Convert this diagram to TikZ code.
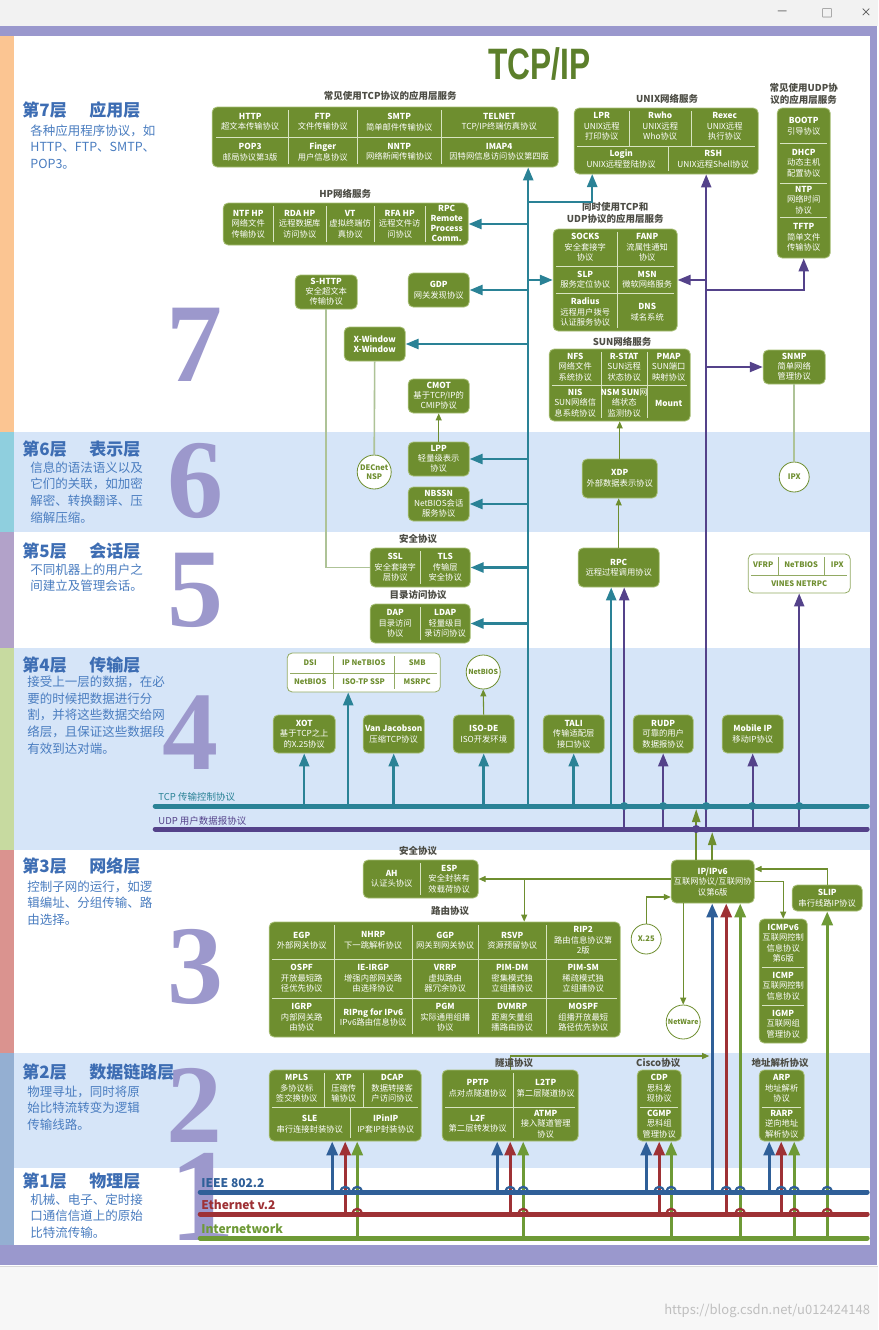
\documentclass[tikz,border=0pt]{standalone}
\usepackage{fontspec}
\usepackage{graphicx}
\setmainfont{Noto Sans CJK SC}
\newfontfamily\numfont{Liberation Serif}
\newfontfamily\headfont{Liberation Sans}
\usetikzlibrary{arrows.meta,positioning,fit,calc}
\definecolor{tcpipgreen}{HTML}{6E8E2F}
\definecolor{tcpiprim}{HTML}{A6BE74}
\definecolor{tcpipsep}{HTML}{D8E4C2}
\definecolor{tcpipteal}{HTML}{2A8296}
\definecolor{tcpippurple}{HTML}{54428A}
\definecolor{tcpipblue}{HTML}{2F5F98}
\definecolor{tcpipred}{HTML}{9E3135}
\definecolor{tcpiplime}{HTML}{6E9A36}
\definecolor{tcpipband}{HTML}{D6E5F8}
\definecolor{tcpipframe}{HTML}{9A98CD}
\definecolor{tcpipnum}{HTML}{9C98CC}
\definecolor{tcpiphead}{HTML}{3D6DB3}
\definecolor{tcpipdesc}{HTML}{4A7DC0}
\definecolor{tcpiplabel}{HTML}{4D4D45}
\definecolor{tcpippale}{HTML}{AEC397}
\definecolor{tcpiptitle}{HTML}{5C7F2B}
\definecolor{tcpipseven}{HTML}{FBC592}
\definecolor{tcpipsix}{HTML}{8FCFDE}
\definecolor{tcpipfive}{HTML}{B2A2C9}
\definecolor{tcpipfour}{HTML}{C7DAA0}
\definecolor{tcpipthree}{HTML}{DA938F}
\definecolor{tcpiptwo}{HTML}{94AFD2}

\begin{document}
\begin{tikzpicture}[
  x=1pt, y=-1pt,
  grbox/.style={draw=tcpiprim, fill=tcpipgreen, rounded corners=5pt, line width=0.8pt, inner sep=0pt},
  wbox/.style={draw=tcpipgreen!75, fill=white, rounded corners=5pt, line width=0.8pt, inner sep=0pt},
  cell/.style={text=white, align=center, inner sep=0pt, font=\fontsize{8.3}{10.5}\selectfont},
  wcell/.style={text=tcpipgreen, inner sep=0pt, font=\fontsize{7.6}{9}\selectfont\bfseries},
  sep/.style={draw=tcpipsep, line width=0.7pt},
  wsep/.style={draw=tcpipgreen!75, line width=0.7pt},
  grouplbl/.style={text=tcpiplabel, align=center, font=\fontsize{9.5}{12}\selectfont\bfseries},
  circ/.style={circle, draw=tcpipgreen, fill=white, line width=0.8pt, inner sep=0pt, align=center,
               text=tcpipgreen, font=\fontsize{7.6}{9}\selectfont\bfseries},
  tcparr/.style={draw=tcpipteal, line width=2.5pt, -{Triangle[length=13pt,width=10pt]}},
  udparr/.style={draw=tcpippurple, line width=2.2pt, -{Triangle[length=13pt,width=10pt]}},
  thinarr/.style={draw=tcpipgreen, line width=1.1pt, -{Triangle[length=7pt,width=6pt]}},
  iparr/.style={draw=tcpipgreen, line width=2.2pt, -{Triangle[length=13pt,width=8pt]}},
  palelink/.style={draw=tcpippale, line width=1.6pt},
  phyarr/.style={line width=3.2pt, -{Triangle[length=14pt,width=11pt]}},
  bus/.style={line width=5pt, line cap=round},
  buslbl/.style={anchor=west, inner sep=0pt, font=\fontsize{9.5}{11}\selectfont},
  phylbl/.style={anchor=west, inner sep=0pt, font=\fontsize{12}{12}\selectfont\bfseries},
  layerhead/.style={anchor=west, text=tcpiphead, inner sep=0pt, font=\fontsize{17}{20}\selectfont\bfseries},
  layerdesc/.style={anchor=north west, text=tcpipdesc, align=left, inner sep=0pt,
                    font=\fontsize{12.5}{16.6}\selectfont},
  bignum/.style={text=tcpipnum, inner sep=0pt, font=\numfont\bfseries\fontsize{112}{112}\selectfont},
  wintxt/.style={text=black!75, inner sep=0pt, font=\fontsize{11}{11}\selectfont}
]
\fill[white] (0,0) rectangle (878,1330);
\fill[black!5] (0,0) rectangle (878,26);
\fill[black!3] (0,1266) rectangle (878,1330);
\draw[black!15] (0,1266) -- (878,1266);
\fill[tcpipband] (14,432) rectangle (870,532);
\fill[tcpipband] (14,648) rectangle (870,850);
\fill[tcpipband] (14,1053) rectangle (870,1168);
\fill[tcpipseven] (0,36) rectangle (14,432);
\fill[tcpipsix] (0,432) rectangle (14,532);
\fill[tcpipfive] (0,532) rectangle (14,648);
\fill[tcpipfour] (0,648) rectangle (14,850);
\fill[tcpipthree] (0,850) rectangle (14,1053);
\fill[tcpiptwo] (0,1053) rectangle (14,1245);
\fill[tcpipframe] (0,26) rectangle (877,36);
\fill[tcpipframe] (870,26) rectangle (877,1265);
\fill[tcpipframe] (0,1245) rectangle (877,1265);
\node[wintxt] (winmin) at (782,13) {—};
\node[wintxt] (winmax) at (827,13) {□};
\node[wintxt] (winclose) at (866,13) {×};
\node[anchor=east, text=black!25, inner sep=0pt, font=\fontsize{13}{13}\selectfont] (blogurl) at (870,1311) {https://blog.csdn.net/u012424148};

\foreach \ly/\x/\y in {7/194/345, 6/195/481, 5/195/590, 4/190/733, 3/195/967, 2/194/1105}
  \node[bignum] (num\ly) at (\x,\y) {\ly};
\node[bignum, font=\numfont\bfseries\fontsize{132}{132}\selectfont] (num1) at (202,1197) {1};

\foreach \ly/\y/\lname in {7/110/应用层, 6/449/表示层, 5/551/会话层, 4/665/传输层, 3/866/网络层, 2/1072/数据链路层, 1/1181/物理层}{
  \node[layerhead] (head\ly) at (22,\y) {第\ly 层};
  \node[layerhead] (name\ly) at (89,\y) {\lname};
}
\node[layerdesc] (desc7) at (30,124.4) {各种应用程序协议，如\\HTTP、FTP、SMTP、\\POP3。};
\node[layerdesc] (desc6) at (30,461.4) {信息的语法语义以及\\它们的关联，如加密\\解密、转换翻译、压\\缩解压缩。};
\node[layerdesc] (desc5) at (30,563.4) {不同机器上的用户之\\间建立及管理会话。};
\node[layerdesc] (desc4) at (27,676) {接受上一层的数据，在必\\要的时候把数据进行分\\割，并将这些数据交给网\\络层，且保证这些数据段\\有效到达对端。};
\node[layerdesc] (desc3) at (27,880.4) {控制子网的运行，如逻\\辑编址、分组传输、路\\由选择。};
\node[layerdesc] (desc2) at (27,1085.4) {物理寻址，同时将原\\始比特流转变为逻辑\\传输线路。};
\node[layerdesc] (desc1) at (30,1193.4) {机械、电子、定时接\\口通信信道上的原始\\比特流传输。};

\node[text=tcpiptitle, inner sep=0pt] (title) at (539,64)
  {\scalebox{0.72}[1]{\headfont\bfseries\fontsize{44}{44}\selectfont TCP/IP}};

\node[grouplbl] (tcpappslbl) at (390,96) {常见使用TCP协议的应用层服务};
\node[grbox, fit={(212,107) (558,167)}] (tcpapps) {};
\foreach \x in {288,357,441} \draw[sep] (\x,110) -- (\x,164);
\draw[sep] (216,137) -- (554,137);
\node[cell] (http) at (250,122) {\textbf{HTTP}\\超文本传输协议};
\node[cell] (ftp) at (322.5,122) {\textbf{FTP}\\文件传输协议};
\node[cell] (smtp) at (399,122) {\textbf{SMTP}\\简单邮件传输协议};
\node[cell] (telnet) at (499,122) {\textbf{TELNET}\\TCP/IP终端仿真协议};
\node[cell] (pop3) at (250,152) {\textbf{POP3}\\邮局协议第3版};
\node[cell] (finger) at (322.5,152) {\textbf{Finger}\\用户信息协议};
\node[cell] (nntp) at (399,152) {\textbf{NNTP}\\网络新闻传输协议};
\node[cell] (imap) at (499,152) {\textbf{IMAP4}\\因特网信息访问协议第四版};

\node[grouplbl] (hplbl) at (345,194) {HP网络服务};
\node[grbox, fit={(223,203) (468,245)}] (hp) {};
\foreach \x in {273,326,374,425} \draw[sep] (\x,206) -- (\x,242);
\node[cell] (ntfhp) at (248,224) {\textbf{NTF HP}\\网络文件\\传输协议};
\node[cell] (rdahp) at (299.5,224) {\textbf{RDA HP}\\远程数据库\\访问协议};
\node[cell] (vt) at (350,224) {\textbf{VT}\\虚拟终端仿\\真协议};
\node[cell] (rfahp) at (399.5,224) {\textbf{RFA HP}\\远程文件访\\问协议};
\node[cell, font=\fontsize{8.3}{10}\selectfont\bfseries] (rpchp) at (446.5,223.5) {RPC\\Remote\\Process\\Comm.};

\node[grouplbl] (unixlbl) at (667,99) {UNIX网络服务};
\node[grbox, fit={(574,108) (758,174)}] (unix) {};
\draw[sep] (577,146) -- (755,146);
\foreach \x in {629,691} \draw[sep] (\x,111) -- (\x,146);
\draw[sep] (668,146) -- (668,171);
\node[cell] (lpr) at (601.5,126.5) {\textbf{LPR}\\UNIX远程\\打印协议};
\node[cell] (rwho) at (660,126.5) {\textbf{Rwho}\\UNIX远程\\Who协议};
\node[cell] (rexec) at (724.5,126.5) {\textbf{Rexec}\\UNIX远程\\执行协议};
\node[cell] (login) at (621,159) {\textbf{Login}\\UNIX远程登陆协议};
\node[cell] (rsh) at (713,159) {\textbf{RSH}\\UNIX远程Shell协议};

\node[grouplbl] (udpappslbl) at (803.5,93.5) {常见使用UDP协\\议的应用层服务};
\node[grbox, fit={(777,108) (830,258)}] (udpapps) {};
\foreach \y in {143,183,217} \draw[sep] (780,\y) -- (827,\y);
\node[cell] (bootp) at (803.5,126) {\textbf{BOOTP}\\引导协议};
\node[cell] (dhcp) at (803.5,163) {\textbf{DHCP}\\动态主机\\配置协议};
\node[cell] (ntp) at (803.5,200) {\textbf{NTP}\\网络时间\\协议};
\node[cell] (tftp) at (803.5,237.5) {\textbf{TFTP}\\简单文件\\传输协议};

\node[grouplbl] (bothlbl) at (615,213) {同时使用TCP和\\UDP协议的应用层服务};
\node[grbox, fit={(553,229) (677,331)}] (both) {};
\draw[sep] (617,232) -- (617,328);
\foreach \y in {266,293} \draw[sep] (556,\y) -- (674,\y);
\node[cell] (socks) at (585,247.5) {\textbf{SOCKS}\\安全套接字\\协议};
\node[cell] (fanp) at (647,247.5) {\textbf{FANP}\\流属性通知\\协议};
\node[cell] (slp) at (585,279.5) {\textbf{SLP}\\服务定位协议};
\node[cell] (msn) at (647,279.5) {\textbf{MSN}\\微软网络服务};
\node[cell] (radius) at (585,312) {\textbf{Radius}\\远程用户拨号\\认证服务协议};
\node[cell] (dns) at (647,312) {\textbf{DNS}\\域名系统};

\node[grouplbl] (sunlbl) at (622,342) {SUN网络服务};
\node[grbox, fit={(549,349) (690,421)}] (sun) {};
\draw[sep] (552,385) -- (687,385);
\foreach \x in {601,647} \draw[sep] (\x,352) -- (\x,418);
\node[cell] (nfs) at (575,367) {\textbf{NFS}\\网络文件\\系统协议};
\node[cell] (rstat) at (624,367) {\textbf{R-STAT}\\SUN远程\\状态协议};
\node[cell] (pmap) at (668.5,367) {\textbf{PMAP}\\SUN端口\\映射协议};
\node[cell] (nis) at (575,403) {\textbf{NIS}\\SUN网络信\\息系统协议};
\node[cell] (nsm) at (624,403) {\textbf{NSM SUN}网\\络状态\\监测协议};
\node[cell] (mount) at (668.5,403) {\textbf{Mount}};

\node[grbox, fit={(763,350) (825,384)}] (snmp) {};
\node[cell, font=\fontsize{8.3}{10}\selectfont] (snmptxt) at (snmp) {\textbf{SNMP}\\简单网络\\管理协议};
\node[circ, minimum size=30pt] (ipx) at (794,477) {IPX};

\node[grbox, fit={(582,459) (657,498)}] (xdp) {};
\node[cell] (xdptxt) at (xdp) {\textbf{XDP}\\外部数据表示协议};

\node[grbox, fit={(295,275) (357,309)}] (shttp) {};
\node[cell, font=\fontsize{8.3}{10}\selectfont] (shttptxt) at (shttp) {\textbf{S-HTTP}\\安全超文本\\传输协议};
\node[grbox, fit={(408,273) (469,307)}] (gdp) {};
\node[cell] (gdptxt) at (gdp) {\textbf{GDP}\\网关发现协议};
\node[grbox, fit={(344,327) (405,361)}] (xwin) {};
\node[cell, font=\fontsize{8.3}{10.5}\selectfont\bfseries] (xwintxt) at (xwin) {X-Window\\X-Window};
\node[grbox, fit={(408,379) (469,413)}] (cmot) {};
\node[cell, font=\fontsize{8.3}{10}\selectfont] (cmottxt) at (cmot) {\textbf{CMOT}\\基于TCP/IP的\\CMIP协议};
\node[grbox, fit={(408,442) (469,476)}] (lpp) {};
\node[cell, font=\fontsize{8.3}{10}\selectfont] (lpptxt) at (lpp) {\textbf{LPP}\\轻量级表示\\协议};
\node[grbox, fit={(408,487) (469,521)}] (nbssn) {};
\node[cell, font=\fontsize{8.3}{10}\selectfont] (nbssntxt) at (nbssn) {\textbf{NBSSN}\\NetBIOS会话\\服务协议};
\node[circ, minimum size=34pt] (decnet) at (374,472) {DECnet\\NSP};

\node[grouplbl] (seclbl) at (418,539) {安全协议};
\node[grbox, fit={(370,548) (470,587)}] (secbox) {};
\draw[sep] (420,551) -- (420,584);
\node[cell] (ssl) at (395,567.5) {\textbf{SSL}\\安全套接字\\层协议};
\node[cell] (tls) at (445,567.5) {\textbf{TLS}\\传输层\\安全协议};
\node[grouplbl] (dirlbl) at (418,595) {目录访问协议};
\node[grbox, fit={(370,604) (470,643)}] (dirbox) {};
\draw[sep] (420,607) -- (420,640);
\node[cell] (dap) at (395,623.5) {\textbf{DAP}\\目录访问\\协议};
\node[cell] (ldap) at (445,623.5) {\textbf{LDAP}\\轻量级目\\录访问协议};
\node[grbox, fit={(578,548) (659,587)}] (rpc) {};
\node[cell] (rpctxt) at (rpc) {\textbf{RPC}\\远程过程调用协议};
\node[wbox, fit={(748,554) (850,593)}] (vines) {};
\draw[wsep] (751,575) -- (847,575);
\foreach \x in {778,824} \draw[wsep] (\x,557) -- (\x,575);
\node[wcell] (vfrp) at (763,565) {VFRP};
\node[wcell] (vnetbios) at (801,565) {NeTBIOS};
\node[wcell] (vipx) at (837,565) {IPX};
\node[wcell] (vnetrpc) at (799,584) {VINES NETRPC};

\node[wbox, fit={(287,653) (440,692)}] (smbbox) {};
\draw[wsep] (290,673) -- (437,673);
\foreach \x in {333,394} \draw[wsep] (\x,656) -- (\x,689);
\node[wcell] (dsi) at (310,663) {DSI};
\node[wcell] (ipnetbios) at (363.5,663) {IP NeTBIOS};
\node[wcell] (smb) at (417,663) {SMB};
\node[wcell] (snetbios) at (310,682) {NetBIOS};
\node[wcell] (isotp) at (363.5,682) {ISO-TP SSP};
\node[wcell] (msrpc) at (417,682) {MSRPC};
\node[circ, minimum size=34pt, font=\fontsize{7}{8}\selectfont\bfseries] (netbios) at (483,672) {NetBIOS};
\node[grbox, fit={(273,715) (335,753)}] (xot) {};
\node[cell] (xottxt) at (xot) {\textbf{XOT}\\基于TCP之上\\的X.25协议};
\node[grbox, fit={(363,715) (424,753)}] (vj) {};
\node[cell] (vjtxt) at (vj) {\textbf{Van Jacobson}\\压缩TCP协议};
\node[grbox, fit={(453,715) (514,753)}] (isode) {};
\node[cell] (isodetxt) at (isode) {\textbf{ISO-DE}\\ISO开发环境};
\node[grbox, fit={(543,715) (604,753)}] (tali) {};
\node[cell] (talitxt) at (tali) {\textbf{TALI}\\传输适配层\\接口协议};
\node[grbox, fit={(633,715) (693,753)}] (rudp) {};
\node[cell] (rudptxt) at (rudp) {\textbf{RUDP}\\可靠的用户\\数据报协议};
\node[grbox, fit={(722,715) (783,753)}] (mip) {};
\node[cell] (miptxt) at (mip) {\textbf{Mobile IP}\\移动IP协议};

\node[grbox, fit={(671,860) (754,903)}] (ip) {};
\node[cell] (iptxt) at (ip) {\textbf{IP/IPv6}\\互联网协议/互联网协\\议第6版};
\node[grbox, fit={(792,885) (862,911)}] (slip) {};
\node[cell] (sliptxt) at (slip) {\textbf{SLIP}\\串行线路IP协议};
\node[grbox, fit={(759,919) (807,1043)}] (icmpbox) {};
\foreach \y in {967,1005} \draw[sep] (762,\y) -- (804,\y);
\node[cell] (icmpv6) at (783,943) {\textbf{ICMPv6}\\互联网控制\\信息协议\\第6版};
\node[cell] (icmp) at (783,986) {\textbf{ICMP}\\互联网控制\\信息协议};
\node[cell] (igmp) at (783,1024) {\textbf{IGMP}\\互联网组\\管理协议};
\node[circ, minimum size=30pt] (x25) at (646,939) {X.25};
\node[circ, minimum size=34pt, font=\fontsize{7}{8}\selectfont\bfseries] (netware) at (683,1022) {NetWare};

\node[grouplbl] (sec3lbl) at (418,851) {安全协议};
\node[grbox, fit={(363,860) (478,898)}] (secl3) {};
\draw[sep] (420,863) -- (420,895);
\node[cell] (ah) at (391.5,879) {\textbf{AH}\\认证头协议};
\node[cell] (esp) at (449,879) {\textbf{ESP}\\安全封装有\\效载荷协议};
\node[grouplbl] (routelbl) at (450,911) {路由协议};
\node[grbox, fit={(269,922) (620,1037)}] (routing) {};
\foreach \x in {334,412,478,546} \draw[sep] (\x,925) -- (\x,1034);
\foreach \y in {959,998} \draw[sep] (272,\y) -- (617,\y);
\node[cell] (egp) at (301.5,940.5) {\textbf{EGP}\\外部网关协议};
\node[cell] (nhrp) at (373,940.5) {\textbf{NHRP}\\下一跳解析协议};
\node[cell] (ggp) at (445,940.5) {\textbf{GGP}\\网关到网关协议};
\node[cell] (rsvp) at (512,940.5) {\textbf{RSVP}\\资源预留协议};
\node[cell] (rip2) at (583,940.5) {\textbf{RIP2}\\路由信息协议第\\2版};
\node[cell] (ospf) at (301.5,978.5) {\textbf{OSPF}\\开放最短路\\径优先协议};
\node[cell] (ieirgp) at (373,978.5) {\textbf{IE-IRGP}\\增强内部网关路\\由选择协议};
\node[cell] (vrrp) at (445,978.5) {\textbf{VRRP}\\虚拟路由\\器冗余协议};
\node[cell] (pimdm) at (512,978.5) {\textbf{PIM-DM}\\密集模式独\\立组播协议};
\node[cell] (pimsm) at (583,978.5) {\textbf{PIM-SM}\\稀疏模式独\\立组播协议};
\node[cell] (igrp) at (301.5,1017.5) {\textbf{IGRP}\\内部网关路\\由协议};
\node[cell] (ripng) at (373,1017.5) {\textbf{RIPng for IPv6}\\IPv6路由信息协议};
\node[cell] (pgm) at (445,1017.5) {\textbf{PGM}\\实际通用组播\\协议};
\node[cell] (dvmrp) at (512,1017.5) {\textbf{DVMRP}\\距离矢量组\\播路由协议};
\node[cell] (mospf) at (583,1017.5) {\textbf{MOSPF}\\组播开放最短\\路径优先协议};

\node[grbox, fit={(269,1070) (421,1141)}] (l2a) {};
\draw[sep] (272,1107) -- (418,1107);
\foreach \x in {324,363} \draw[sep] (\x,1073) -- (\x,1107);
\draw[sep] (350,1107) -- (350,1138);
\node[cell] (mpls) at (296.5,1088.5) {\textbf{MPLS}\\多协议标\\签交换协议};
\node[cell] (xtp) at (343.5,1088.5) {\textbf{XTP}\\压缩传\\输协议};
\node[cell] (dcap) at (392,1088.5) {\textbf{DCAP}\\数据转接客\\户访问协议};
\node[cell] (sle) at (309.5,1124) {\textbf{SLE}\\串行连接封装协议};
\node[cell] (ipinip) at (385.5,1124) {\textbf{IPinIP}\\IP套IP封装协议};
\node[grbox, fit={(442,1070) (578,1141)}] (tunnel) {};
\draw[sep] (445,1107) -- (575,1107);
\draw[sep] (513,1073) -- (513,1138);
\node[cell] (pptp) at (477.5,1088.5) {\textbf{PPTP}\\点对点隧道协议};
\node[cell] (l2tp) at (545.5,1088.5) {\textbf{L2TP}\\第二层隧道协议};
\node[cell] (l2f) at (477.5,1124) {\textbf{L2F}\\第二层转发协议};
\node[cell] (atmp) at (545.5,1124) {\textbf{ATMP}\\接入隧道管理\\协议};
\node[grbox, fit={(637,1070) (681,1141)}] (cisco) {};
\draw[sep] (640,1107) -- (678,1107);
\node[cell] (cdp) at (659,1088.5) {\textbf{CDP}\\思科发\\现协议};
\node[cell] (cgmp) at (659,1124) {\textbf{CGMP}\\思科组\\管理协议};
\node[grbox, fit={(759,1070) (804,1141)}] (arpbox) {};
\draw[sep] (762,1107) -- (801,1107);
\node[cell] (arp) at (781.5,1088.5) {\textbf{ARP}\\地址解析\\协议};
\node[cell] (rarp) at (781.5,1124) {\textbf{RARP}\\逆向地址\\解析协议};

\coordinate (tcpbus) at (155,806);
\coordinate (tcpend) at (867,806);
\coordinate (udpbus) at (155,829);
\coordinate (udpend) at (867,829);
\coordinate (ieeebus) at (200,1192);
\coordinate (ieeeend) at (867,1192);
\coordinate (etherbus) at (200,1214);
\coordinate (etherend) at (867,1214);
\coordinate (inetbus) at (200,1238);
\coordinate (inetend) at (867,1238);
\coordinate (tcptrunk) at (528,806);
\coordinate (udptrunk) at (706,829);
\coordinate (iptcp) at (696,809);
\coordinate (ipudp) at (712,832);
\coordinate (secfork) at (524,879);

\draw[tcparr] (tcptrunk) -- (tcptrunk |- tcpapps.south);
\draw[tcparr] (tcptrunk |- hp.east) -- (hp.east);
\draw[tcparr] (tcptrunk |- 0,202) -| (592,174);
\draw[tcparr] (tcptrunk |- both.west) -- (both.west);
\draw[tcparr] (tcptrunk |- gdp.east) -- (gdp.east);
\draw[tcparr] (tcptrunk |- xwin.east) -- (xwin.east);
\draw[tcparr] (tcptrunk |- lpp.east) -- (lpp.east);
\draw[tcparr] (tcptrunk |- nbssn.east) -- (nbssn.east);
\draw[tcparr] (tcptrunk |- secbox.east) -- (secbox.east);
\draw[tcparr] (tcptrunk |- dirbox.east) -- (dirbox.east);
\draw[tcparr] (tcpbus -| 611,0) -- (rpc.south -| 611,0);
\draw[tcparr] (tcpbus -| 348,0) -- (smbbox.south -| 348,0);
\foreach \blk in {xot,vj,isode,tali}
  \draw[tcparr] (tcpbus -| \blk.south) -- (\blk.south);

\draw[udparr] (udptrunk) -- (udptrunk |- unix.south);
\draw[udparr] (udptrunk |- both.east) -- (both.east);
\draw[udparr] (udptrunk |- 0,290) -| (udpapps.south);
\draw[udparr] (udptrunk |- snmp.west) -- (snmp.west);
\draw[udparr] (udpbus -| 624,0) -- (rpc.south -| 624,0);
\foreach \blk in {rudp,mip,vines}
  \draw[udparr] (udpbus -| \blk.south) -- (\blk.south);

\draw[thinarr] (xdp.north) -- (xdp.north |- sun.south);
\draw[thinarr] (rpc.north) -- (rpc.north |- xdp.south);
\draw[thinarr] (lpp.north) -- (cmot.south);
\draw[thinarr] (isode.north) -- (netbios.south);
\draw[palelink] (shttp.south) |- (secbox.west);
\draw[palelink] (xwin.south) -- (decnet.north);
\draw[palelink] (snmp.south) -- (ipx.north);

\draw[iparr] (ip.north -| iptcp) -- (iptcp);
\draw[iparr] (ip.north -| ipudp) -- (ipudp);
\draw[thinarr] (x25.north) |- (ip.west |- 0,897);
\draw[thinarr] (netware.north |- ip.south) -- (netware.north);
\draw[thinarr] (ip.east) -| (icmpbox.north);
\draw[thinarr] (slip.north) |- (ip.east |- 0,869);
\draw[thinarr] (ip.west |- secl3.east) -- (secl3.east);
\draw[thinarr] (secfork) -- (secfork |- routing.north);
\draw[thinarr] (tunnel.north) |- (709,1056);

\draw[phyarr, tcpipblue] (ieeebus -| 712,0) -- (ip.south -| 712,0);
\draw[phyarr, tcpipred] (etherbus -| 726,0) -- (ip.south -| 726,0);
\draw[phyarr, tcpiplime] (inetbus -| 740,0) -- (ip.south -| 740,0);
\draw[phyarr, tcpiplime] (inetbus -| slip.south) -- (slip.south);
\foreach \blk/\xa/\xb/\xc in {l2a/332/345/357, tunnel/497/510/523, cisco/646/659/671, arpbox/769/781/794}{
  \draw[phyarr, tcpipblue] (ieeebus -| \xa,0) -- (\blk.south -| \xa,0);
  \draw[phyarr, tcpipred] (etherbus -| \xb,0) -- (\blk.south -| \xb,0);
  \draw[phyarr, tcpiplime] (inetbus -| \xc,0) -- (\blk.south -| \xc,0);
}

\draw[bus, tcpipteal] (tcpbus) -- (tcpend);
\draw[bus, tcpippurple] (udpbus) -- (udpend);
\draw[bus, tcpipblue] (ieeebus) -- (ieeeend);
\draw[bus, tcpipred] (etherbus) -- (etherend);
\draw[bus, tcpiplime] (inetbus) -- (inetend);
\foreach \x in {624,663,706,752,799}
  \fill[tcpipteal] (\x,806) circle[radius=4pt];
\fill[tcpippurple] (696,829) circle[radius=4pt];
\foreach \x in {345,510,659,726,781,357,523,671,740,794,827}
  \draw[tcpipblue, line width=2.2pt] (\x-4.5,1192) .. controls (\x-4.5,1185) and (\x+4.5,1185) .. (\x+4.5,1192);
\foreach \x in {357,523,671,740,794,827}
  \draw[tcpipred, line width=2.2pt] (\x-4.5,1214) .. controls (\x-4.5,1207) and (\x+4.5,1207) .. (\x+4.5,1214);

\node[buslbl, text=tcpipteal] (tcplbl) at (158,797) {TCP 传输控制协议};
\node[buslbl, text=tcpippurple] (udplbl) at (158,821) {UDP 用户数据报协议};
\node[phylbl, text=tcpipblue] (ieeelbl) at (201,1183) {IEEE 802.2};
\node[phylbl, text=tcpipred] (etherlbl) at (201,1205) {Ethernet v.2};
\node[phylbl, text=tcpiplime] (inetlbl) at (201,1229) {Internetwork};
\node[grouplbl] (tunnellbl) at (514,1063) {隧道协议};
\node[grouplbl] (ciscolbl) at (658,1063) {Cisco协议};
\node[grouplbl] (arplbl) at (780,1063) {地址解析协议};
\end{tikzpicture}
\end{document}
